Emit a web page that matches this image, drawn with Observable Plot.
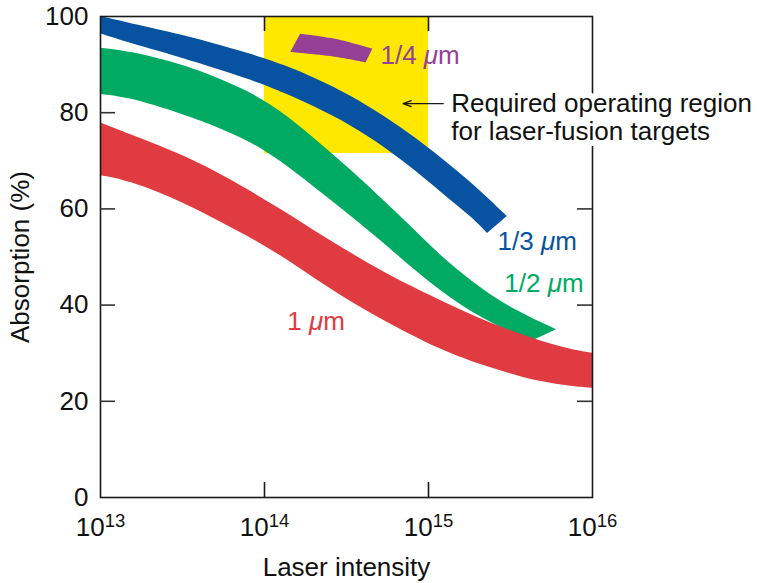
<!DOCTYPE html>
<html>
<head>
<meta charset="utf-8">
<script src="https://cdn.jsdelivr.net/npm/d3@7"></script>
<script src="https://cdn.jsdelivr.net/npm/@observablehq/plot@0.6"></script>
<style>
  html, body { margin: 0; padding: 0; background: #ffffff; }
</style>
</head>
<body>
<div id="chart"></div>
<script>
// Axis ticks (x given as log10 of laser intensity)
const xTickExponents = [13, 14, 15, 16];
const yTickValues = [0, 20, 40, 60, 80, 100];
const innerXTicks = [14, 15];
const innerYTicks = [20, 40, 60, 80];

// Required operating region (log10 intensity, absorption %)
const regionExp = [14, 15];
const regionAbs = [71.5, 100];

// 1/3 µm band (blue): upper and lower edges
const blueUpperX = [13.00, 13.17, 13.48, 13.92, 14.12, 14.32, 14.53, 14.73, 14.93, 15.13, 15.33, 15.48];
const blueUpperY = [100.0, 98.6, 96.4, 92.2, 89.9, 87.0, 83.5, 79.3, 74.6, 69.2, 63.4, 58.4];
const blueLowerX = [13.00, 13.17, 13.48, 13.92, 14.12, 14.32, 14.53, 14.73, 14.93, 15.13, 15.26, 15.36];
const blueLowerY = [96.4, 94.5, 91.6, 86.8, 84.1, 81.0, 77.3, 72.9, 67.7, 61.9, 58.4, 54.9];

// 1/2 µm band (green)
const greenUpperX = [13.00, 13.17, 13.49, 13.69, 13.90, 14.10, 14.30, 14.51, 14.71, 14.89, 15.07, 15.27, 15.48, 15.78];
const greenUpperY = [93.4, 92.8, 90.1, 87.6, 84.5, 80.4, 74.8, 68.6, 62.3, 56.5, 50.3, 44.7, 39.7, 34.9];
const greenLowerX = [13.00, 13.17, 13.49, 13.69, 13.90, 14.10, 14.30, 14.51, 14.71, 14.87, 15.07, 15.27, 15.48, 15.63];
const greenLowerY = [83.8, 83.2, 79.8, 77.3, 74.2, 70.0, 64.6, 59.0, 53.4, 48.6, 43.0, 38.3, 34.7, 32.5];

// 1 µm band (red)
const redX = [13.00, 13.17, 13.48, 13.69, 13.90, 14.10, 14.30, 14.51, 14.71, 14.87, 15.07, 15.27, 15.48, 15.68, 15.88, 16.00];
const redUpperY = [77.9, 75.6, 71.5, 68.0, 64.0, 59.9, 55.5, 51.1, 47.2, 44.3, 41.0, 37.8, 34.9, 32.5, 30.6, 30.0];
const redLowerY = [66.9, 65.9, 61.7, 58.0, 54.3, 50.3, 45.6, 41.0, 37.1, 34.2, 30.8, 28.1, 25.9, 24.0, 23.0, 22.7];

// 1/4 µm band (purple)
const purpleUpperX = [14.22, 14.44, 14.66];
const purpleUpperY = [96.3, 95.2, 93.2];
const purpleLowerX = [14.16, 14.44, 14.62];
const purpleLowerY = [92.5, 91.5, 90.4];

// Band labels
const bandLabels = ["1/4 μm", "1/3 μm", "1/2 μm", "1 μm"];
const bandLabelExp = [14.707, 15.421, 15.462, 14.139];
const bandLabelAbs = [91.8, 53.2, 44.5, 36.6];

// Annotation
const noteLines = ["Required operating region", "for laser-fusion targets"];
const noteExp = 15.139;
const noteAbs = [81.9, 76.0];
const arrowExp = [15.09, 14.845];
const arrowAbs = 81.9;

const COLORS = {
  yellow: "#fee800",
  blue: "#0753a1",
  green: "#00aa63",
  red: "#e03b40",
  purple: "#953f96",
  ink: "#1a1a1a"
};

function bandRows(ux, uy, lx, ly) {
  return ux.map((_, i) => ({xu: 10 ** ux[i], yu: uy[i], xl: 10 ** lx[i], yl: ly[i]}));
}
function band(rows, fill, curve = "basis") {
  return Plot.area(rows, {x1: "xu", y1: "yu", x2: "xl", y2: "yl", fill, curve});
}

const W = 757, H = 583;
const mL = 100, mR = 165, mT = 16, mB = 86;
const plotW = W - mL - mR, plotH = H - mT - mB;
const TICK = 15;

const chart = Plot.plot({
  width: W,
  height: H,
  marginLeft: mL,
  marginRight: mR,
  marginTop: mT,
  marginBottom: mB,
  style: {fontFamily: "'Liberation Sans', Arial, Helvetica, sans-serif", fontSize: "26px", background: "#ffffff", color: "#111"},
  x: {type: "log", domain: [1e13, 1e16]},
  y: {domain: [0, 100]},
  marks: [
    Plot.rect([0], {x1: () => 10 ** regionExp[0], x2: () => 10 ** regionExp[1], y1: () => regionAbs[0], y2: () => regionAbs[1], fill: COLORS.yellow}),
    band(bandRows(greenUpperX, greenUpperY, greenLowerX, greenLowerY), COLORS.green),
    band(bandRows(redX, redUpperY, redX, redLowerY), COLORS.red),
    band(bandRows(blueUpperX, blueUpperY, blueLowerX, blueLowerY), COLORS.blue),
    band(bandRows(purpleUpperX, purpleUpperY, purpleLowerX, purpleLowerY), COLORS.purple, "catmull-rom"),
    Plot.frame({stroke: COLORS.ink, strokeWidth: 1.6}),
    // inward ticks: bottom, top, left, right
    Plot.tickX(innerXTicks, {x: d => 10 ** d, insetTop: plotH - TICK, stroke: COLORS.ink, strokeWidth: 1.6}),
    Plot.tickX(innerXTicks, {x: d => 10 ** d, insetBottom: plotH - TICK, stroke: COLORS.ink, strokeWidth: 1.6}),
    Plot.tickY(innerYTicks, {y: d => d, insetRight: plotW - TICK, stroke: "#333", strokeWidth: 1.6}),
    Plot.tickY(innerYTicks, {y: d => d, insetLeft: plotW - TICK, stroke: "#333", strokeWidth: 1.6}),
    Plot.axisY({ticks: yTickValues, tickSize: 0, tickPadding: 12, label: null}),
    Plot.axisX({ticks: xTickExponents.map(e => 10 ** e), tickSize: 0, tickPadding: 20, label: null,
      tickFormat: d => String(Math.round(Math.log10(d)))}),
    // band labels
    ...bandLabels.map((lab, i) => Plot.text([lab], {
      x: () => 10 ** bandLabelExp[i], y: () => bandLabelAbs[i], text: d => d,
      fill: [COLORS.purple, COLORS.blue, COLORS.green, COLORS.red][i],
      textAnchor: "start", lineAnchor: "middle"
    })),
    // annotation
    Plot.arrow([0], {x1: () => 10 ** arrowExp[0], x2: () => 10 ** arrowExp[1], y1: () => arrowAbs, y2: () => arrowAbs,
      stroke: COLORS.ink, strokeWidth: 1.3, headLength: 10, headAngle: 40}),
    Plot.text(noteLines, {x: () => 10 ** noteExp, y: (d, i) => noteAbs[i], text: d => d,
      textAnchor: "start", lineAnchor: "middle", fill: "#111",
      stroke: "white", strokeWidth: 12, paintOrder: "stroke", strokeLinejoin: "round"}),
    // axis titles
    Plot.text(["Laser intensity"], {frameAnchor: "bottom", dy: 70, text: d => d, fill: "#111", textAnchor: "middle", lineAnchor: "middle"}),
    Plot.text(["Absorption (%)"], {frameAnchor: "left", dx: -80, rotate: -90, text: d => d, fill: "#111", textAnchor: "middle", lineAnchor: "middle"})
  ]
});

// superscript exponents on x tick labels: 10^n
d3.select(chart).selectAll("g[aria-label='x-axis tick label'] text").each(function () {
  const exp = this.textContent;
  const t = d3.select(this);
  t.text("10");
  t.append("tspan").attr("dy", "-9").attr("font-size", "18.5px").text(exp);
});

// italic mu in band labels
d3.select(chart).selectAll("text").each(function () {
  if (this.children.length) return;
  const s = this.textContent;
  const i = s.indexOf("μ");
  if (i < 0) return;
  const t = d3.select(this);
  t.text(null);
  t.append("tspan").text(s.slice(0, i));
  t.append("tspan").attr("font-style", "italic").text("μ");
  t.append("tspan").text(s.slice(i + 1));
});

document.getElementById("chart").appendChild(chart);
</script>
</body>
</html>
